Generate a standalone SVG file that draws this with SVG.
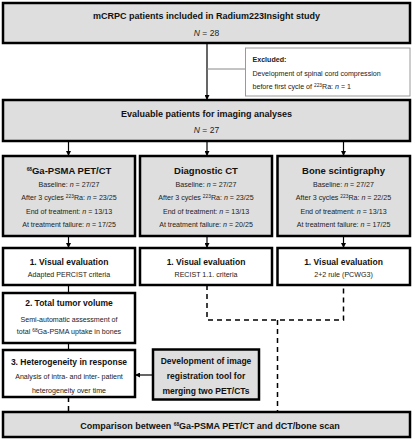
<svg xmlns="http://www.w3.org/2000/svg" width="413" height="440" viewBox="0 0 413 440">
<defs>
<marker id="ah" viewBox="0 0 10 10" refX="10" refY="5" markerWidth="5" markerHeight="5" markerUnits="userSpaceOnUse" orient="auto">
<path d="M0,0 L10,5 L0,10 Z" fill="#000"/>
</marker>
<style>
.box{stroke:#000;stroke-width:2.5;}
.g{fill:#dedede;}
.w{fill:#fff;}
.t{font-family:"Liberation Sans",Arial,sans-serif;font-weight:bold;font-size:9px;fill:#111;text-anchor:middle;}
.h{font-size:9.5px;}
.v{font-size:8.5px;}
.s{font-family:"Liberation Sans",Arial,sans-serif;font-size:7.1px;fill:#222;text-anchor:middle;}
.sup{font-size:4.8px;}
.ln{stroke:#000;stroke-width:1.2;fill:none;}
.dash{stroke:#000;stroke-width:1.5;fill:none;stroke-dasharray:5 4;}
</style>
</defs>
<g id="connectors">
<line class="ln" x1="207" y1="43" x2="207" y2="100" marker-end="url(#ah)"/>
<line x1="207" y1="69" x2="245.5" y2="69" stroke="#888" stroke-width="1"/>
<line class="ln" x1="68.5" y1="141" x2="68.5" y2="156" marker-end="url(#ah)"/>
<line class="ln" x1="207" y1="141" x2="207" y2="156" marker-end="url(#ah)"/>
<line class="ln" x1="343.5" y1="141" x2="343.5" y2="156" marker-end="url(#ah)"/>
<line class="ln" x1="68.5" y1="236" x2="68.5" y2="248" marker-end="url(#ah)"/>
<line class="ln" x1="207" y1="236" x2="207" y2="248" marker-end="url(#ah)"/>
<line class="ln" x1="343.5" y1="236" x2="343.5" y2="248" marker-end="url(#ah)"/>
<line class="ln" x1="68.5" y1="285" x2="68.5" y2="293"/>
<line class="ln" x1="68.5" y1="343" x2="68.5" y2="350"/>
<line class="dash" x1="68.5" y1="397" x2="68.5" y2="412" stroke-dasharray="4 4"/>
<path class="dash" d="M207,285 V320 H343.5 V285"/>
<line class="dash" x1="277.5" y1="320" x2="277.5" y2="412"/>
<line class="ln" x1="153" y1="375" x2="135" y2="375" marker-end="url(#ah)"/>
</g>
<g id="n_top">
<rect class="box g" x="3" y="3" width="407" height="40"/>
<text class="t" x="206.5" y="19">mCRPC patients included in Radium223Insight study</text>
<text class="s" x="206.5" y="36" style="font-size:8.5px"><tspan font-style="italic">N</tspan> = 28</text>
</g>
<g id="n_excluded">
<rect x="245.5" y="48" width="164.5" height="48" fill="#fff" stroke="#999" stroke-width="1"/>
<text class="s" x="252.5" y="61.5" style="text-anchor:start;font-weight:bold">Excluded:</text>
<text class="s" x="252.5" y="75.5" style="text-anchor:start">Development of spinal cord compression</text>
<text class="s" x="252.5" y="89" style="text-anchor:start">before first cycle of <tspan class="sup" dy="-2.5">223</tspan><tspan dy="2.5">Ra: </tspan><tspan font-style="italic">n</tspan> = 1</text>
</g>
<g id="n_eval">
<rect class="box g" x="3" y="100" width="407" height="41"/>
<text class="t" x="206.5" y="116.5">Evaluable patients for imaging analyses</text>
<text class="s" x="206.5" y="132.5" style="font-size:8.5px"><tspan font-style="italic">N</tspan> = 27</text>
</g>
<g id="n_pet">
<rect class="box g" x="3" y="156" width="132" height="80"/>
<text class="t h" x="69" y="174"><tspan class="sup" dy="-3">68</tspan><tspan dy="3">Ga-PSMA PET/CT</tspan></text>
<text class="s" x="69" y="186.8">Baseline: <tspan font-style="italic">n</tspan> = 27/27</text>
<text class="s" x="69" y="200.3">After 3 cycles <tspan class="sup" dy="-2.5">223</tspan><tspan dy="2.5">Ra: </tspan><tspan font-style="italic">n</tspan> = 23/25</text>
<text class="s" x="69" y="213.8">End of treatment: <tspan font-style="italic">n</tspan> = 13/13</text>
<text class="s" x="69" y="227.3">At treatment failure: <tspan font-style="italic">n</tspan> = 17/25</text>
</g>
<g id="n_ct">
<rect class="box g" x="140" y="156" width="132" height="80"/>
<text class="t h" x="206" y="174">Diagnostic CT</text>
<text class="s" x="206" y="186.8">Baseline: <tspan font-style="italic">n</tspan> = 27/27</text>
<text class="s" x="206" y="200.3">After 3 cycles <tspan class="sup" dy="-2.5">223</tspan><tspan dy="2.5">Ra: </tspan><tspan font-style="italic">n</tspan> = 23/25</text>
<text class="s" x="206" y="213.8">End of treatment: <tspan font-style="italic">n</tspan> = 13/13</text>
<text class="s" x="206" y="227.3">At treatment failure: <tspan font-style="italic">n</tspan> = 20/25</text>
</g>
<g id="n_bone">
<rect class="box g" x="277.5" y="156" width="132.5" height="80"/>
<text class="t h" x="343.5" y="174">Bone scintigraphy</text>
<text class="s" x="343.5" y="186.8">Baseline: <tspan font-style="italic">n</tspan> = 27/27</text>
<text class="s" x="343.5" y="200.3">After 3 cycles <tspan class="sup" dy="-2.5">223</tspan><tspan dy="2.5">Ra: </tspan><tspan font-style="italic">n</tspan> = 22/25</text>
<text class="s" x="343.5" y="213.8">End of treatment: <tspan font-style="italic">n</tspan> = 13/13</text>
<text class="s" x="343.5" y="227.3">At treatment failure: <tspan font-style="italic">n</tspan> = 17/25</text>
</g>
<g id="n_vis1">
<rect class="box w" x="3" y="248" width="132" height="37"/>
<text class="t v" x="69" y="264.5">1. Visual evaluation</text>
<text class="s" x="69" y="276.6">Adapted PERCIST criteria</text>
</g>
<g id="n_vis2">
<rect class="box w" x="140" y="248" width="132" height="37"/>
<text class="t v" x="206" y="264.5">1. Visual evaluation</text>
<text class="s" x="206" y="276.6">RECIST 1.1. criteria</text>
</g>
<g id="n_vis3">
<rect class="box w" x="277.5" y="248" width="132.5" height="37"/>
<text class="t v" x="343.5" y="264.5">1. Visual evaluation</text>
<text class="s" x="343.5" y="276.6">2+2 rule (PCWG3)</text>
</g>
<g id="n_ttv">
<rect class="box w" x="3" y="293" width="132" height="50"/>
<text class="t v" x="69" y="306.3">2. Total tumor volume</text>
<text class="s" x="69" y="321.8">Semi-automatic assessment of</text>
<text class="s" x="69" y="334.3">total <tspan class="sup" dy="-2.5">68</tspan><tspan dy="2.5">Ga-PSMA uptake in bones</tspan></text>
</g>
<g id="n_het">
<rect class="box w" x="3" y="350" width="132" height="47"/>
<text class="t v" x="69" y="365.3">3. Heterogeneity in response</text>
<text class="s" x="69" y="379.3">Analysis of intra- and inter- patient</text>
<text class="s" x="69" y="392.5">heterogeneity over time</text>
</g>
<g id="n_dev">
<rect class="box g" x="153" y="349.5" width="106" height="50"/>
<text class="t v" x="206" y="363.8">Development of image</text>
<text class="t v" x="206" y="379">registration tool for</text>
<text class="t v" x="206" y="394">merging two PET/CTs</text>
</g>
<g id="n_comp">
<rect class="box g" x="3" y="412" width="407" height="25"/>
<text class="t" x="210" y="428.8"><tspan>Comparison between </tspan><tspan class="sup" dy="-3">68</tspan><tspan dy="3">Ga-PSMA PET/CT and dCT/bone scan</tspan></text>
</g>
</svg>
